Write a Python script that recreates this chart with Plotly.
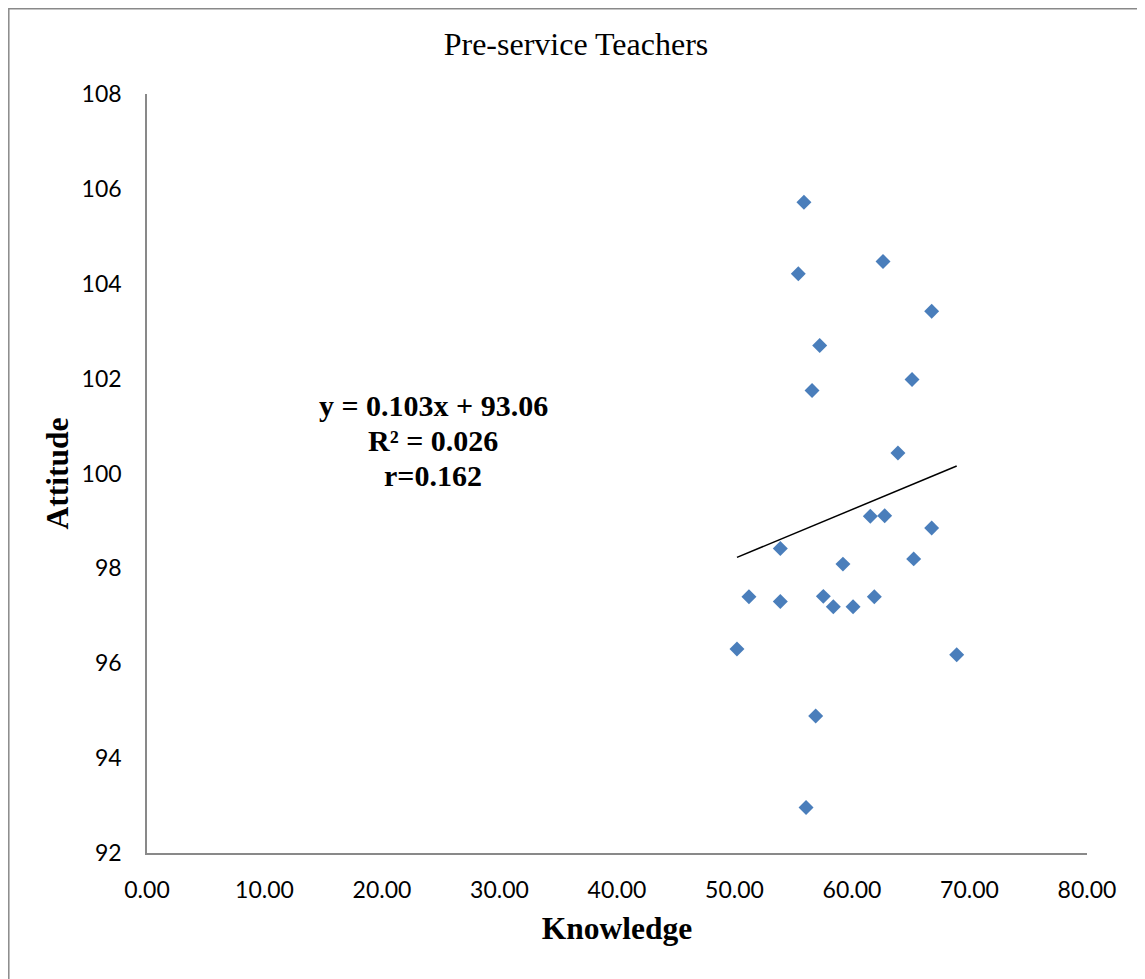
import plotly.graph_objects as go

# Data
knowledge = [55.91, 55.43, 62.64, 66.78, 57.25, 56.60, 65.11, 63.91,
             61.56, 62.78, 66.78, 53.90, 59.23, 65.25, 51.23, 53.90,
             57.56, 58.41, 60.09, 61.90, 50.21, 68.91, 56.91, 56.09]
attitude = [105.72, 104.21, 104.47, 103.42, 102.70, 101.75, 101.98, 100.43,
            99.10, 99.11, 98.85, 98.42, 98.09, 98.20, 97.40, 97.30,
            97.41, 97.19, 97.19, 97.40, 96.30, 96.18, 94.89, 92.96]
slope = 0.103
intercept = 93.06
eq_lines = ["y = 0.103x + 93.06", "R² = 0.026", "r=0.162"]
x_ticks = [0, 10, 20, 30, 40, 50, 60, 70, 80]
y_ticks = [92, 94, 96, 98, 100, 102, 104, 106, 108]

W, H = 1145, 979
OFF = 8  # page body margin offset
# plot area in screen pixels of the reference
SL, SR, ST, SB = 147, 1087, 94, 853
L, R, T, B = SL - OFF, SR - OFF, ST - OFF, SB - OFF

fig = go.Figure()
fig.add_trace(go.Scatter(
    x=knowledge, y=attitude, mode="markers",
    marker=dict(symbol="diamond", size=11.5, color="#4A7EBB",
                line=dict(width=0)),
    showlegend=False, hoverinfo="x+y"))

tx = [min(knowledge), max(knowledge)]
ty = [slope * v + intercept for v in tx]
fig.add_trace(go.Scatter(x=tx, y=ty, mode="lines",
                         line=dict(color="black", width=1.5),
                         showlegend=False, hoverinfo="skip"))

def px2paper_x(p):  # p in reference screen pixels
    return (p - SL) / (SR - SL)

def px2paper_y(p):
    return (SB - p) / (SB - ST)

serif = "Liberation Serif, Times New Roman, serif"
tickfont = dict(family="Lato, Calibri, sans-serif", size=23, color="black")

for txt, yy in zip(eq_lines, [405, 440, 475]):
    fig.add_annotation(
        x=px2paper_x(433), y=px2paper_y(yy), xref="paper", yref="paper",
        text="<b>%s</b>" % txt, showarrow=False, xanchor="center", yanchor="middle",
        font=dict(family=serif, size=30, color="black"))

fig.add_shape(type="rect", xref="paper", yref="paper",
              x0=px2paper_x(OFF + 0.8), x1=px2paper_x(1170),
              y0=px2paper_y(1000), y1=px2paper_y(OFF + 0.8),
              line=dict(color="#898989", width=1.5), layer="below")

fig.update_layout(
    width=W, height=H,
    margin=dict(l=L, r=W - R, t=T, b=H - B, pad=0),
    paper_bgcolor="white", plot_bgcolor="white",
    title=dict(text="Pre-service Teachers", x=px2paper_x(576), xref="paper",
               xanchor="center", y=1 - (44 - OFF) / H, yanchor="middle",
               font=dict(family=serif, size=32, color="black")),
    xaxis=dict(range=[0, 80], tickvals=x_ticks, tickformat=".2f",
               showgrid=False, zeroline=False, showline=True,
               linecolor="#898989", linewidth=1.5, ticks="",
               ticklabelstandoff=16, tickfont=tickfont,
               title=dict(text="<b>Knowledge</b>", standoff=15,
                          font=dict(family=serif, size=31.5, color="black"))),
    yaxis=dict(range=[92, 108], tickvals=y_ticks,
               showgrid=False, zeroline=False, showline=True,
               linecolor="#898989", linewidth=1.5, ticks="",
               ticklabelstandoff=19, tickfont=tickfont,
               title=dict(text="<b>Attitude</b>", standoff=4,
                          font=dict(family=serif, size=31.5, color="black"))),
)

fig.write_html("out.html")
